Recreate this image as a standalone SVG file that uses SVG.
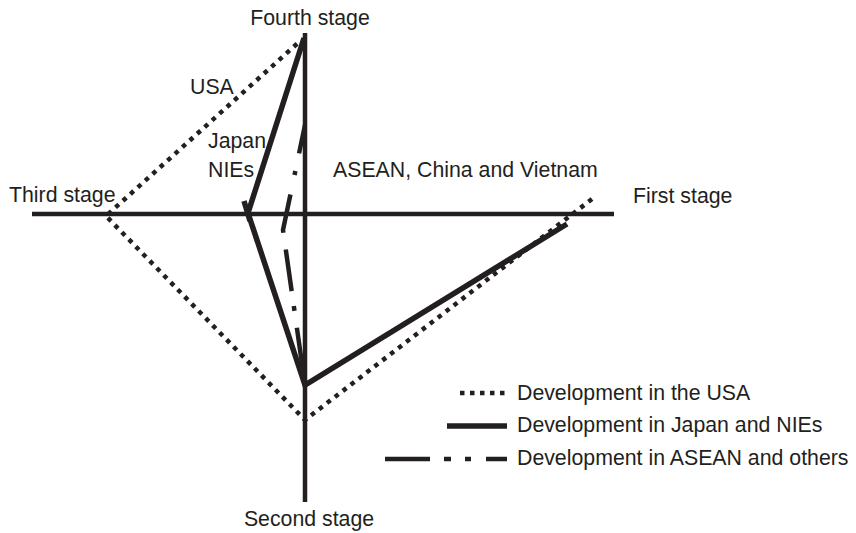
<svg xmlns="http://www.w3.org/2000/svg" width="856" height="533" viewBox="0 0 856 533">
  <style>
    text { font-family: "Liberation Sans", Arial, sans-serif; font-size: 21.3px; fill: #231f20; }
    .axis { stroke: #231f20; stroke-width: 4.5; fill: none; }
    .usa { stroke: #231f20; stroke-width: 4.5; fill: none; stroke-dasharray: 4.5 5.5; }
    .japan { stroke: #231f20; stroke-width: 5.5; fill: none; stroke-linejoin: miter; }
    .asean { stroke: #231f20; stroke-width: 4.5; fill: none; }
  </style>
  <rect width="856" height="533" fill="#ffffff"/>

  <!-- Axes -->
  <g id="axes">
    <line class="axis" x1="305" y1="33" x2="305" y2="502"/>
    <line class="axis" x1="32" y1="214" x2="614" y2="214"/>
  </g>

  <!-- Stage labels -->
  <g id="stage-fourth"><text x="310" y="25" text-anchor="middle">Fourth stage</text></g>
  <g id="stage-second"><text x="309" y="526" text-anchor="middle">Second stage</text></g>
  <g id="stage-third"><text x="9" y="202">Third stage</text></g>
  <g id="stage-first"><text x="633" y="203">First stage</text></g>

  <!-- Region labels -->
  <g id="label-usa"><text x="190" y="94">USA</text></g>
  <g id="label-japan"><text x="208" y="148">Japan</text><text x="208" y="177">NIEs</text></g>
  <g id="label-asean"><text x="333" y="177">ASEAN, China and Vietnam</text></g>

  <!-- Development paths -->
  <g id="connectors">
    <path id="path-usa" class="usa" d="M592,199 L305,420 L106,216 L299,42"/>
    <path id="path-japan" class="japan" d="M567,224 L305,385 L248,213 L304,38"/>
    <line class="japan" x1="244" y1="201" x2="250" y2="221" stroke-width="4"/>
    <path id="path-asean" class="asean" d="M305,125 L283,230 L305,385" stroke-dasharray="29 18 4 20 39 17 42 15 5 17 60"/>
  </g>

  <!-- Legend -->
  <g id="legend">
    <line class="usa" x1="460" y1="393" x2="508" y2="393" stroke-width="5" stroke-dasharray="5.5 5"/>
    <text x="517" y="400">Development in the USA</text>
    <line class="japan" x1="447" y1="426" x2="507" y2="426" stroke-width="5"/>
    <text x="517" y="432">Development in Japan and NIEs</text>
    <line class="asean" x1="385" y1="459" x2="507" y2="459" stroke-width="6" stroke-dasharray="45 14 7 14 6 15 21"/>
    <text x="517" y="465">Development in ASEAN and others</text>
  </g>
</svg>
